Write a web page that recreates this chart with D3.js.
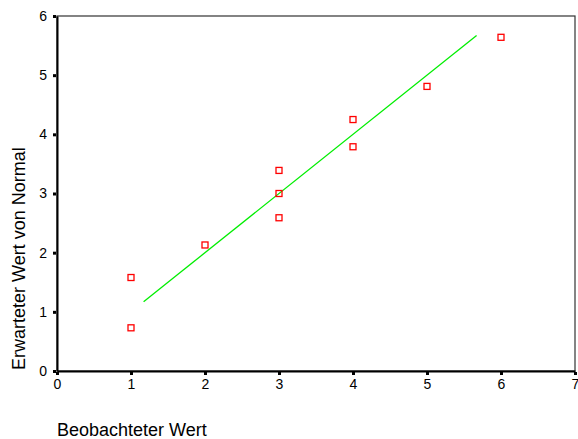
<!DOCTYPE html>
<html>
<head>
<meta charset="utf-8">
<script src="https://cdn.jsdelivr.net/npm/d3@7"></script>
<style>
  body { margin: 0; background: #fff; }
  text { font-family: Arial, "Liberation Sans", sans-serif; fill: #000; }
</style>
</head>
<body>
<div id="chart"></div>
<script>
var svgWidth = 578;
var svgHeight = 439;

// observed vs expected normal values
var observed = [1, 1, 2, 3, 3, 3, 4, 4, 5, 6];
var expected = [1.58, 0.73, 2.13, 3.39, 3.0, 2.59, 4.25, 3.79, 4.81, 5.64];
// reference line (y = x)
var refLineX = [1.17, 5.67];
var xTicks = [0, 1, 2, 3, 4, 5, 6, 7];
var yTicks = [0, 1, 2, 3, 4, 5, 6];

var margin = { top: 16, right: 3, bottom: 68, left: 57 };
var width = svgWidth - margin.left - margin.right;
var height = svgHeight - margin.top - margin.bottom;

var svg = d3.select("#chart")
  .append("svg")
  .attr("width", svgWidth)
  .attr("height", svgHeight);

var chartGroup = svg.append("g")
  .attr("transform", `translate(${margin.left}, ${margin.top})`);

var x = d3.scaleLinear().domain([0, 7]).range([0, width]);
var y = d3.scaleLinear().domain([0, 6]).range([height, 0]);

// frame
chartGroup.append("rect")
  .attr("x", 0).attr("y", 0)
  .attr("width", width).attr("height", height)
  .attr("fill", "none")
  .attr("stroke", "#333")
  .attr("stroke-width", 1.2);

// axes
var bottomAxis = d3.axisBottom(x).tickValues(xTicks).tickFormat(d3.format("d"))
  .tickSize(0).tickPadding(6);
var leftAxis = d3.axisLeft(y).tickValues(yTicks).tickFormat(d3.format("d"))
  .tickSize(0).tickPadding(10);

var gx = chartGroup.append("g")
  .attr("transform", `translate(0, ${height})`)
  .call(bottomAxis);
var gy = chartGroup.append("g").call(leftAxis);

[gx, gy].forEach(function(g) {
  g.select(".domain").attr("stroke", "#000").attr("stroke-width", 2);
  g.selectAll("text").attr("font-size", "14px").attr("fill", "#000")
    .style("font-family", "Arial, 'Liberation Sans', sans-serif");
});
gx.selectAll("text").attr("dy", "0.85em");

// small square tick marks
gx.selectAll(".tick").append("rect")
  .attr("x", -1.5).attr("y", 1).attr("width", 3).attr("height", 3)
  .attr("fill", "#000");
gy.selectAll(".tick").append("rect")
  .attr("x", -4).attr("y", -1.5).attr("width", 3).attr("height", 3)
  .attr("fill", "#000");

// reference line
chartGroup.append("line")
  .attr("x1", x(refLineX[0])).attr("y1", y(refLineX[0]))
  .attr("x2", x(refLineX[1])).attr("y2", y(refLineX[1]))
  .attr("stroke", "#00ee00")
  .attr("stroke-width", 1.3);

// points
chartGroup.selectAll("rect.pt")
  .data(observed)
  .enter()
  .append("rect")
  .attr("class", "pt")
  .attr("x", (d, i) => x(d) - 3)
  .attr("y", (d, i) => y(expected[i]) - 3)
  .attr("width", 6)
  .attr("height", 6)
  .attr("fill", "none")
  .attr("stroke", "#ff0000")
  .attr("stroke-width", 1.3);

// axis labels
svg.append("text")
  .attr("transform", `translate(25, ${margin.top + height - 1}) rotate(-90)`)
  .attr("font-size", "18px")
  .text("Erwarteter Wert von Normal");

svg.append("text")
  .attr("x", 57)
  .attr("y", 436)
  .attr("font-size", "18px")
  .text("Beobachteter Wert");
</script>
</body>
</html>
